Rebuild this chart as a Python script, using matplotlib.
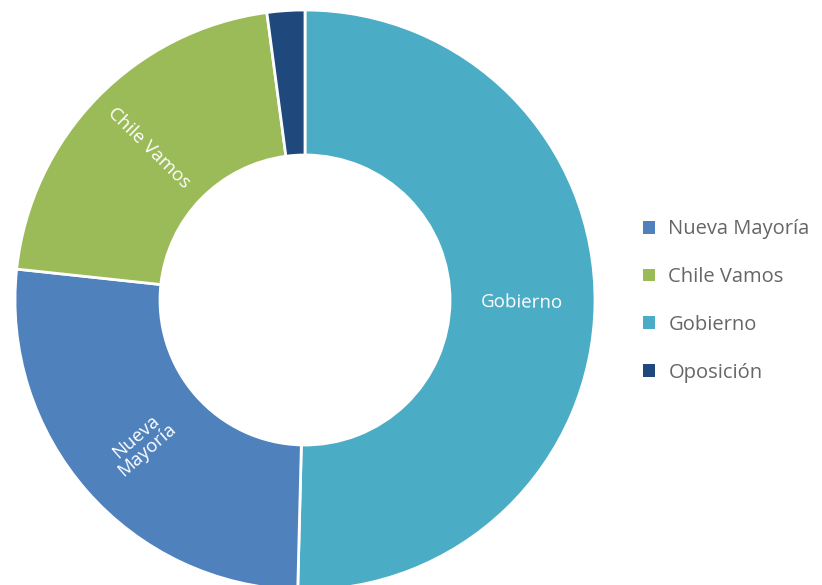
import matplotlib
matplotlib.use("Agg")
import matplotlib.pyplot as plt
import numpy as np

# Data (clockwise from top)
categories = ["Gobierno", "Nueva Mayoría", "Chile Vamos", "Oposición"]
values = [50.4, 26.3, 21.2, 2.1]
colors = ["#4BACC6", "#4F81BD", "#9BBB59", "#1F497D"]
slice_labels = ["Gobierno", "Nueva\nMayoría", "Chile Vamos", ""]
legend_order = ["Nueva Mayoría", "Chile Vamos", "Gobierno", "Oposición"]

plt.rcParams['font.family'] = ['Open Sans', 'DejaVu Sans']

fig = plt.figure(figsize=(8.22, 5.85), dpi=100)
ax = fig.add_axes([15/822, -5/585, 580/822, 580/585])
wedges, _ = ax.pie(values, colors=colors, startangle=90, counterclock=False,
                   radius=1.0,
                   wedgeprops=dict(width=0.5, edgecolor="white", linewidth=2))
ax.set_xlim(-1, 1)
ax.set_ylim(-1, 1)
ax.set_aspect("equal")
ax.axis("off")

for w, lab in zip(wedges, slice_labels):
    if not lab:
        continue
    mid = (w.theta1 + w.theta2) / 2
    ang = np.deg2rad(mid)
    rot = mid % 360
    if 90 < rot < 270:
        rot -= 180
    elif rot >= 270:
        rot -= 360
    r = 0.75
    ax.text(r*np.cos(ang), r*np.sin(ang), lab, color="white", fontsize=13.5,
            ha="center", va="center", rotation=rot, rotation_mode="anchor",
            linespacing=0.95)

handles = [wedges[categories.index(c)] for c in legend_order]
leg = fig.legend(handles, legend_order, loc="center left",
                 bbox_to_anchor=(625/822, 1 - 301/585), frameon=False,
                 fontsize=14.5, handlelength=0.6, handleheight=0.6,
                 labelspacing=1.38, handletextpad=0.65, labelcolor="#666666")
for h in leg.legend_handles:
    h.set_edgecolor("none")

fig.savefig("out.png", dpi=100, facecolor="white")
